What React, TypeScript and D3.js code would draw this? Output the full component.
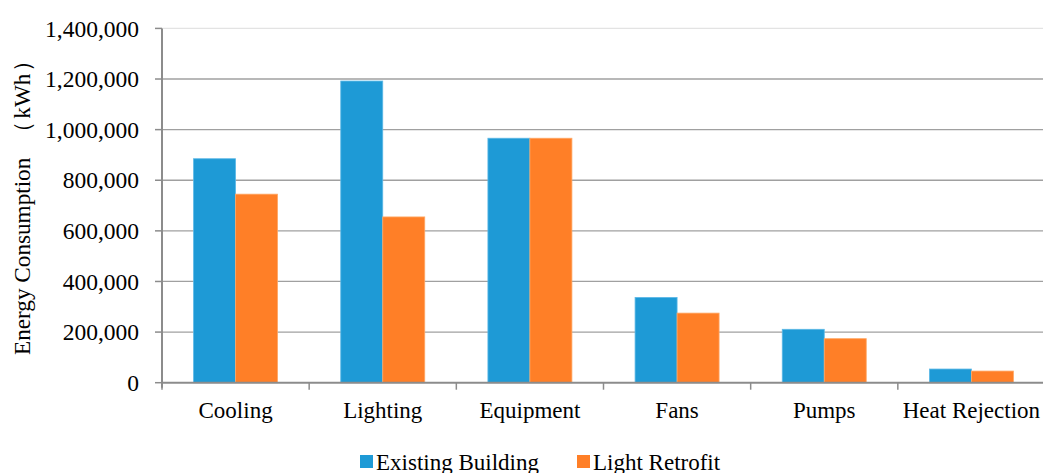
import React from "react";
import * as d3 from "d3";

const categories = ["Cooling", "Lighting", "Equipment", "Fans", "Pumps", "Heat Rejection"];
const seriesNames = ["Existing Building", "Light Retrofit"];
const existingBuilding = [885000, 1192000, 966000, 337000, 211000, 54000];
const lightRetrofit = [745000, 655000, 966000, 275000, 174000, 46000];
const yTicks = [0, 200000, 400000, 600000, 800000, 1000000, 1200000, 1400000];
const colors = ["#1E9AD6", "#FF7F27"];
const edgeColors = ["#5CB8E6", "#FFA866"];

const W = 1043;
const H = 473;
const left = 162;
const right = 1045;
const top = 28.4;
const bottom = 382.7;
const FONT = "'Liberation Serif', 'Times New Roman', serif";

export default function App() {
  const x = d3.scaleBand<string>().domain(categories).range([left, right]).paddingInner(0).paddingOuter(0);
  const y = d3.scaleLinear().domain([0, 1400000]).range([bottom, top]);
  const fmt = d3.format(",");
  const series = [existingBuilding, lightRetrofit];
  const barW = 42;
  const groupOffset = (x.bandwidth() - 2 * barW) / 2;

  return (
    <svg width={W} height={H} style={{ position: "absolute", left: 0, top: 0, background: "#fff" }} fontFamily={FONT}>
      {/* horizontal gridlines */}
      {yTicks.slice(1).map((t) => (
        <line key={t} x1={left} x2={right} y1={y(t)} y2={y(t)} stroke={t === 1400000 ? "#e3e3e3" : "#a0a0a0"} strokeWidth={1.3} />
      ))}
      {/* bars */}
      {series.map((vals, si) =>
        categories.map((c, ci) => {
          const bx = (x(c) as number) + groupOffset + si * barW;
          return (
            <rect
              key={`${si}-${c}`}
              x={bx}
              y={y(vals[ci])}
              width={barW}
              height={bottom - y(vals[ci])}
              fill={colors[si]}
              stroke={edgeColors[si]}
              strokeWidth={0.8}
            />
          );
        })
      )}
      {/* y axis */}
      <line x1={left} x2={left} y1={top} y2={bottom + 5} stroke="#8c8c8c" strokeWidth={2} />
      {yTicks.map((t) => (
        <g key={t}>
          <line x1={left - 7} x2={left} y1={y(t)} y2={y(t)} stroke="#8c8c8c" strokeWidth={1.5} />
          <text x={left - 23} y={y(t)} dy="0.35em" textAnchor="end" fontSize={23.5} fill="#000">
            {fmt(t)}
          </text>
        </g>
      ))}
      {/* x axis */}
      <line x1={left} x2={right} y1={bottom} y2={bottom} stroke="#8c8c8c" strokeWidth={2} />
      {categories.map((c) => (
        <g key={c}>
          <line x1={x(c) as number} x2={x(c) as number} y1={bottom} y2={bottom + 7} stroke="#8c8c8c" strokeWidth={1.5} />
          <text x={(x(c) as number) + x.bandwidth() / 2} y={418} textAnchor="middle" fontSize={23} fill="#000">
            {c}
          </text>
        </g>
      ))}
      {/* y axis title: full-width brackets around the unit */}
      <text transform="translate(30,355) rotate(-90)" textAnchor="start" fontSize={23.2} fill="#000">
        Energy Consumption
        <tspan dx={14}>（</tspan>
        <tspan dx={2}>kWh</tspan>
        <tspan dx={2}>）</tspan>
      </text>
      {/* legend */}
      {seriesNames.map((n, i) => {
        const lx = i === 0 ? 360 : 577;
        return (
          <g key={n}>
            <rect x={lx} y={455} width={13} height={13} fill={colors[i]} />
            <text x={lx + 16} y={470} fontSize={23} fill="#000">
              {n}
            </text>
          </g>
        );
      })}
    </svg>
  );
}
